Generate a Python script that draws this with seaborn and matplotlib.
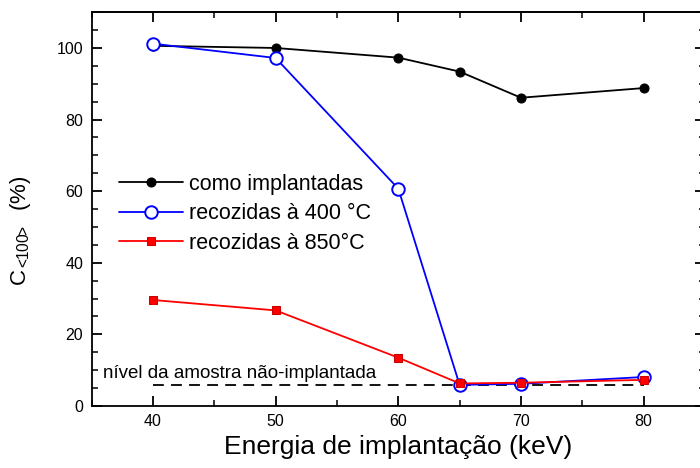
import matplotlib
matplotlib.use("Agg")
import matplotlib.pyplot as plt
from matplotlib.ticker import MultipleLocator, NullFormatter
import pandas as pd
import seaborn as sns

# -- data --------------------------------------------------------------------

energia = [40, 50, 60, 65, 70, 80]
como_implantadas = [100.6, 100.0, 97.3, 93.4, 86.1, 88.8]
recozidas_400 = [101.2, 97.2, 60.7, 5.9, 6.2, 8.1]
recozidas_850 = [29.6, 26.7, 13.5, 6.3, 6.5, 7.3]

nivel_x = [40, 80]
nivel_y = [6.0, 6.0]

# -- style -------------------------------------------------------------------

sns.set_style("ticks")
plt.rcParams.update({
    "font.family": ["Liberation Sans", "DejaVu Sans"],
    "mathtext.fontset": "custom",
    "mathtext.rm": "Liberation Sans",
    "mathtext.it": "Liberation Sans",
    "text.color": "black",
    "axes.labelcolor": "black",
    "axes.edgecolor": "black",
    "xtick.color": "black",
    "ytick.color": "black",
    "xtick.direction": "in",
    "ytick.direction": "in",
    "ytick.right": True,
    "axes.linewidth": 1.3,
})

df = pd.DataFrame({"E": energia, "como": como_implantadas,
                   "r400": recozidas_400, "r850": recozidas_850})

fig = plt.figure(figsize=(7.0, 4.68), dpi=100)
ax = fig.add_axes([0.131, 0.1325, 0.876, 0.8415])

sns.lineplot(data=df, x="E", y="como", ax=ax, color="black", lw=1.3,
             marker="o", markersize=6.5, markeredgecolor="black",
             label="como implantadas")
sns.lineplot(data=df, x="E", y="r400", ax=ax, color="#0000ff", lw=1.3,
             marker="o", markersize=9, markerfacecolor="white",
             markeredgecolor="#0000ff", markeredgewidth=1.4,
             label="recozidas à 400 °C")
sns.lineplot(data=df, x="E", y="r850", ax=ax, color="#ff0000", lw=1.3,
             marker="s", markersize=6, markerfacecolor="#ff0000",
             markeredgecolor="#cc0000", label="recozidas à 850°C")

ax.plot(nivel_x, nivel_y, color="black", lw=1.3, ls=(0, (6, 4)), zorder=1)
ax.text(35.9, 6.6, "nível da amostra não-implantada", fontsize=13.5,
        va="bottom", ha="left")

ax.set_xlim(35, 85)
ax.set_ylim(0, 110)
ax.xaxis.set_major_locator(MultipleLocator(10))
ax.xaxis.set_minor_locator(MultipleLocator(5))
ax.yaxis.set_major_locator(MultipleLocator(20))
ax.yaxis.set_minor_locator(MultipleLocator(5))
ax.tick_params(which="both", direction="in", right=True, labelright=False)
ax.tick_params(which="major", length=7, width=1.3, labelsize=11.5, pad=6)
ax.tick_params(which="minor", length=4, width=1.1)

# mirrored ticks on the top edge
top = ax.secondary_xaxis("top")
top.xaxis.set_major_locator(MultipleLocator(10))
top.xaxis.set_minor_locator(MultipleLocator(5))
top.xaxis.set_major_formatter(NullFormatter())
top.tick_params(which="both", direction="in", color="black")
top.tick_params(which="major", length=7, width=1.3)
top.tick_params(which="minor", length=4, width=1.1)
top.spines["top"].set_linewidth(1.3)

ax.set_xlabel("Energia de implantação (keV)", fontsize=19, labelpad=4)
ax.set_ylabel(r"C$_{<\!\!100\!\!>}$  (%)", fontsize=16)
ax.yaxis.set_label_coords(-0.095, 0.445)

ax.legend(loc="upper left", bbox_to_anchor=(0.03, 0.612), frameon=False,
          fontsize=15.5, handlelength=3.0, handletextpad=0.25,
          labelspacing=0.4, borderaxespad=0)

fig.savefig("out.png", dpi=100)
